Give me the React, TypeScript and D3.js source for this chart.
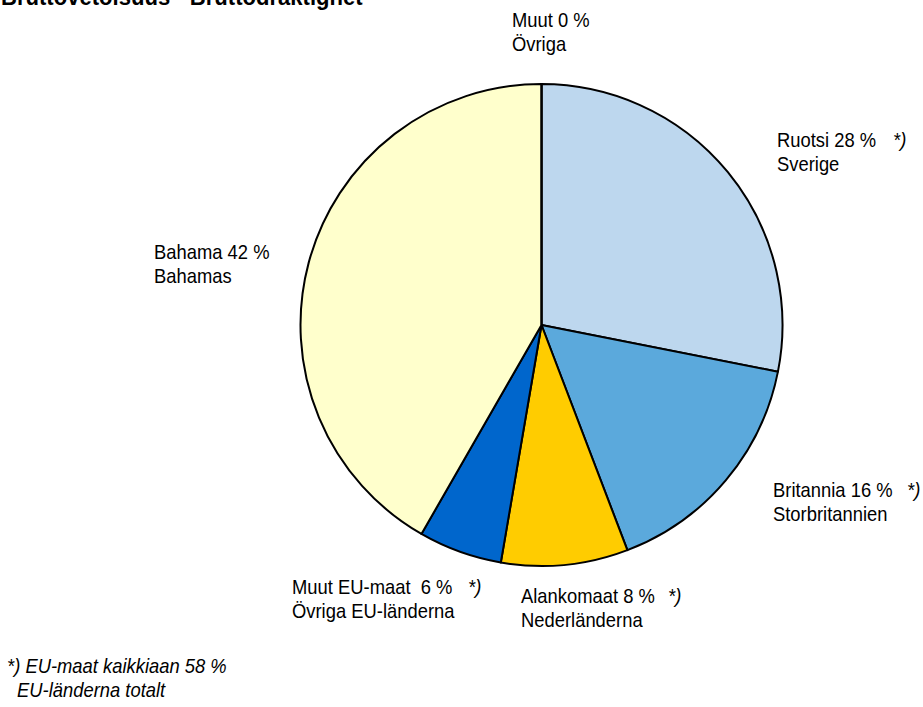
import React from "react";
import * as d3 from "d3";

const title = "Bruttovetoisuus - Bruttodräktighet";
const categories = ["Ruotsi", "Britannia", "Alankomaat", "Muut EU-maat", "Bahama", "Muut"];
const values = [28.1, 16.1, 8.5, 5.6, 41.7, 0];
const colors = ["#BDD7EE", "#5BA9DC", "#FFCC00", "#0066CC", "#FFFFCC", "#FFFFFF"];
const labelLine1 = ["Ruotsi 28 %", "Britannia 16 %", "Alankomaat 8 %", "Muut EU-maat\u00a0 6 %", "Bahama 42 %", "Muut 0 %"];
const labelLine2 = ["Sverige", "Storbritannien", "Nederländerna", "Övriga EU-länderna", "Bahamas", "Övriga"];
const euMark = [true, true, true, true, false, false];
const footnote1 = "*) EU-maat kaikkiaan 58 %";
const footnote2 = "EU-länderna totalt";

// label layout (x, baseline y, x of "*)" marker)
const labelPos = [
  { x: 777, y: 147, m: 893 },
  { x: 773, y: 497, m: 907 },
  { x: 521, y: 603, m: 668 },
  { x: 292, y: 594, m: 468 },
  { x: 154, y: 259, m: 0 },
  { x: 512, y: 27, m: 0 },
];

const W = 923;
const H = 707;
const cx = 541.5;
const cy = 325;
const R = 241;
const SX = 0.92;

function T({ x, y, children, italic }: { x: number; y: number; children: React.ReactNode; italic?: boolean }) {
  return (
    <text
      transform={`translate(${x},${y}) scale(${SX},1)`}
      fontSize={20}
      fontStyle={italic ? "italic" : "normal"}
      fill="#000"
    >
      {children}
    </text>
  );
}

export default function App() {
  const pie = d3
    .pie<number>()
    .sort(null)
    .value((d) => d)
    .startAngle(0)
    .endAngle(2 * Math.PI);
  const arcs = pie(values);
  const arc = d3.arc<d3.PieArcDatum<number>>().innerRadius(0).outerRadius(R);
  const font = "'Liberation Sans', Arial, sans-serif";

  return (
    <svg
      width={W}
      height={H}
      style={{ position: "absolute", left: 0, top: 0, background: "#fff" }}
      fontFamily={font}
    >
      <text transform={`translate(1,5) scale(${SX},1)`} fontSize={24} fontWeight="bold" fill="#000">
        {title}
      </text>
      <g transform={`translate(${cx},${cy})`}>
        {arcs.map((a, i) =>
          a.value > 0 ? (
            <path
              key={categories[i]}
              d={arc(a) || ""}
              fill={colors[i]}
              stroke="#000"
              strokeWidth={2}
              strokeLinejoin="round"
            />
          ) : (
            <line key={categories[i]} x1={0} y1={0} x2={0} y2={-R} stroke="#000" strokeWidth={2} />
          )
        )}
      </g>
      {labelPos.map((p, i) => (
        <g key={categories[i]}>
          <T x={p.x} y={p.y}>{labelLine1[i]}</T>
          <T x={p.x} y={p.y + 24}>{labelLine2[i]}</T>
          {euMark[i] ? (
            <T x={p.m} y={p.y} italic>*)</T>
          ) : null}
        </g>
      ))}
      <T x={7} y={673} italic>{footnote1}</T>
      <T x={17} y={697} italic>{footnote2}</T>
    </svg>
  );
}
